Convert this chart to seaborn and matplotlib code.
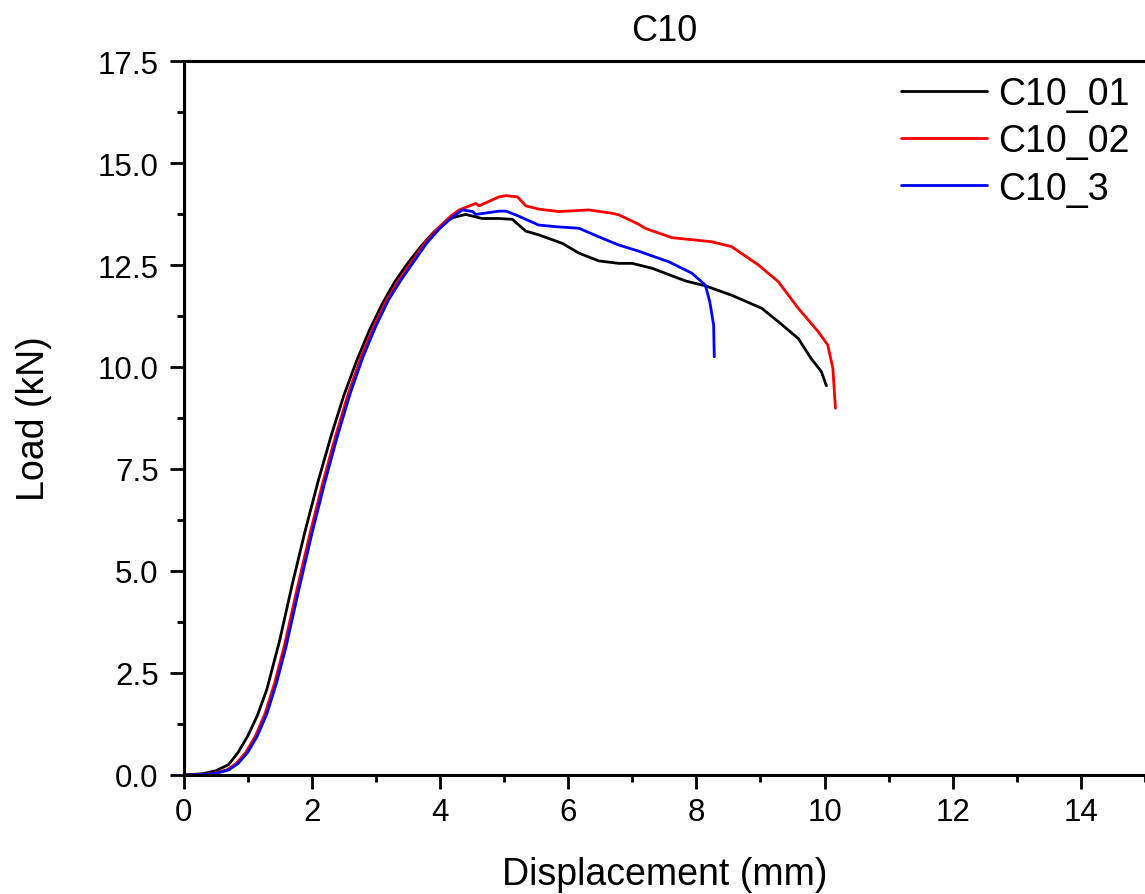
"""
Load-displacement curves for the C10 specimens.
"""

import matplotlib
matplotlib.use('Agg')
import matplotlib.pyplot as plt
from matplotlib.ticker import MultipleLocator, FormatStrFormatter
import pandas as pd
import seaborn as sns

# C10_01
x_01 = [0, 0.3, 0.5, 0.7, 0.85, 1.0, 1.15, 1.3, 1.5, 1.7, 1.9, 2.1, 2.3,
        2.5, 2.7, 2.9, 3.1, 3.3, 3.5, 3.7, 3.9, 4.1, 4.2, 4.4, 4.66, 4.92,
        5.13, 5.23, 5.34, 5.54, 5.91, 6.17, 6.48, 6.79, 7.00, 7.31, 7.83,
        8.14, 8.55, 9.02, 9.28, 9.59, 9.79, 9.95, 10.03]
y_01 = [0, 0.03, 0.10, 0.25, 0.55, 0.95, 1.45, 2.1, 3.3, 4.7, 6.0, 7.2, 8.3,
        9.3, 10.15, 10.9, 11.55, 12.1, 12.55, 12.95, 13.3, 13.58, 13.66,
        13.74, 13.64, 13.64, 13.62, 13.48, 13.33, 13.24, 13.03, 12.79, 12.60,
        12.54, 12.54, 12.42, 12.11, 11.99, 11.76, 11.44, 11.11, 10.70, 10.21,
        9.89, 9.54]

# C10_02
x_02 = [0, 0.3, 0.47, 0.67, 0.82, 0.97, 1.12, 1.27, 1.42, 1.57, 1.77, 1.97,
        2.17, 2.37, 2.57, 2.77, 2.97, 3.17, 3.37, 3.57, 3.77, 3.97, 4.17,
        4.30, 4.56, 4.61, 4.92, 5.03, 5.21, 5.34, 5.54, 5.86, 6.32, 6.68,
        6.79, 7.10, 7.20, 7.62, 8.24, 8.55, 8.97, 9.28, 9.59, 9.90, 10.05,
        10.13, 10.17]
y_02 = [0, 0.01, 0.04, 0.12, 0.28, 0.55, 0.95, 1.5, 2.25, 3.15, 4.55, 5.9,
        7.15, 8.3, 9.35, 10.25, 11.0, 11.65, 12.15, 12.6, 13.05, 13.4, 13.7,
        13.85, 14.01, 13.95, 14.17, 14.20, 14.17, 13.95, 13.87, 13.81, 13.85,
        13.77, 13.73, 13.50, 13.40, 13.17, 13.07, 12.95, 12.50, 12.09, 11.44,
        10.87, 10.54, 9.97, 8.99]

# C10_3
x_3 = [0, 0.3, 0.5, 0.7, 0.85, 1.0, 1.15, 1.3, 1.45, 1.6, 1.8, 2.0, 2.2, 2.4,
       2.6, 2.8, 3.0, 3.2, 3.4, 3.6, 3.8, 4.0, 4.2, 4.35, 4.51, 4.56, 4.92,
       5.03, 5.18, 5.54, 5.80, 6.17, 6.48, 6.79, 7.10, 7.26, 7.57, 7.93,
       8.14, 8.21, 8.27, 8.28]
y_3 = [0, 0.01, 0.04, 0.12, 0.28, 0.55, 0.95, 1.5, 2.25, 3.15, 4.55, 5.9,
       7.15, 8.3, 9.35, 10.25, 11.0, 11.65, 12.15, 12.6, 13.05, 13.4, 13.68,
       13.85, 13.81, 13.74, 13.82, 13.82, 13.73, 13.48, 13.44, 13.40, 13.19,
       12.99, 12.84, 12.75, 12.58, 12.30, 12.01, 11.60, 11.03, 10.25]

series = ['C10_01', 'C10_02', 'C10_3']
colors = ['black', 'red', 'blue']

frames = []
for name, xs, ys in zip(series, [x_01, x_02, x_3], [y_01, y_02, y_3]):
    frames.append(pd.DataFrame({'disp': xs, 'load': ys, 'specimen': name}))
df = pd.concat(frames, ignore_index=True)

sns.set_style('ticks')
plt.rcParams['font.family'] = ['Liberation Sans', 'DejaVu Sans']
plt.rcParams['text.color'] = 'black'
plt.rcParams['axes.labelcolor'] = 'black'
plt.rcParams['xtick.color'] = 'black'
plt.rcParams['ytick.color'] = 'black'

fig = plt.figure(figsize=(11.45, 8.95), dpi=100)
ax = fig.add_axes([0.1603, 0.1330, 0.8397, 0.7977])

sns.lineplot(data=df, x='disp', y='load', hue='specimen', hue_order=series,
             palette=colors, sort=False, estimator=None, linewidth=2,
             ax=ax)

ax.set_xlim(0, 15)
ax.set_ylim(0, 17.5)
ax.xaxis.set_major_locator(MultipleLocator(2))
ax.xaxis.set_minor_locator(MultipleLocator(1))
ax.yaxis.set_major_locator(MultipleLocator(2.5))
ax.yaxis.set_minor_locator(MultipleLocator(1.25))
ax.yaxis.set_major_formatter(FormatStrFormatter('%.1f'))

for side in ['left', 'bottom', 'top']:
    ax.spines[side].set_linewidth(2.2)
    ax.spines[side].set_color('black')
ax.spines['right'].set_visible(False)

ax.tick_params(which='major', length=10, width=2, labelsize=22.5,
               colors='black', pad=6)
ax.tick_params(which='minor', length=5, width=2, colors='black')
ax.tick_params(axis='y', which='major', pad=8)

ax.set_xlabel('Displacement (mm)', fontsize=27, labelpad=21, color='black')
ax.set_ylabel('Load (kN)', fontsize=27, labelpad=33, color='black')
ax.set_title('C10', fontsize=26, pad=15, color='black')

leg = ax.legend(loc='upper right', bbox_to_anchor=(1.0, 1.0), frameon=False,
                fontsize=27, handlelength=2.3, handletextpad=0.3,
                labelspacing=0.3, borderaxespad=0.0)
for t in leg.get_texts():
    t.set_color('black')

fig.savefig('out.png', dpi=100)
plt.close(fig)
